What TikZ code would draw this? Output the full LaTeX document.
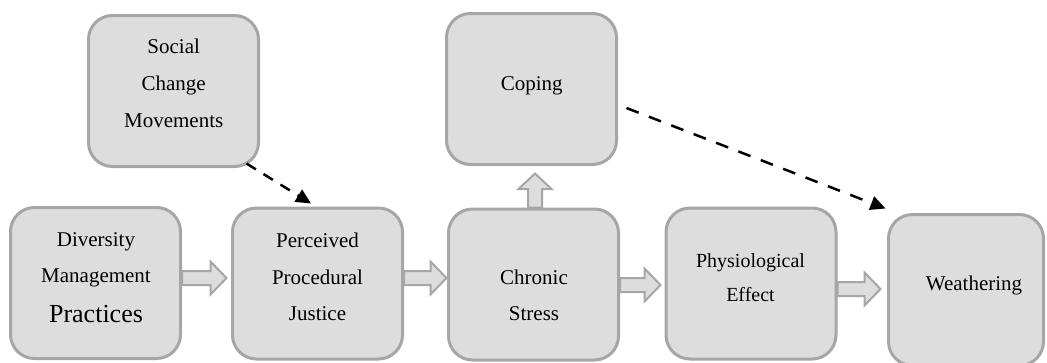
\documentclass[tikz,border=0pt]{standalone}
\usepackage{fontspec}
\setmainfont{Liberation Serif}
\usetikzlibrary{calc,arrows.meta}
\definecolor{boxfill}{HTML}{DDDDDD}
\definecolor{boxline}{HTML}{A6A6A6}
\newcommand\rblock[2]{\draw[barrow] ($(#1)+(0,-7)$) -- ($(#2)+(-16,-7)$) -- ($(#2)+(-16,-16.5)$) -- (#2) -- ($(#2)+(-16,16.5)$) -- ($(#2)+(-16,7)$) -- ($(#1)+(0,7)$) -- cycle;}
\newcommand\ublock[2]{\draw[barrow] ($(#1)+(-7,0)$) -- ($(#2)+(-7,15.5)$) -- ($(#2)+(-16.5,15.5)$) -- (#2) -- ($(#2)+(16.5,15.5)$) -- ($(#2)+(7,15.5)$) -- ($(#1)+(7,0)$) -- cycle;}
\begin{document}
\begin{tikzpicture}[x=1pt,y=-1pt,
  box/.style={draw=boxline, fill=boxfill, line width=3pt, rounded corners=24pt,
    minimum width=170pt, minimum height=151pt, inner sep=0pt},
  txt/.style={align=center, font=\fontsize{21}{37}\selectfont, inner sep=0pt},
  barrow/.style={draw=boxline, fill=boxfill, line width=2pt, line join=miter},
  dasharrow/.style={line width=2.5pt, -{Triangle[length=15pt,width=14pt]}}]
\useasboundingbox (0,0) rectangle (1047,362);
\clip (0,0) rectangle (1047,362);
% boxes
\node[box] (div) at (95.5,283) {};
\node[box] (perc) at (317.5,283.5) {};
\node[box] (chron) at (533.5,284.5) {};
\node[box] (phys) at (751,283.5) {};
\node[box, minimum width=155pt] (weath) at (966,290) {};
\node[box] (social) at (173.5,91) {};
\node[box] (coping) at (531.5,89) {};
% texts
\node[txt] (tdiv) at (96,278) {Diversity\\[-1pt]Management\\[3pt]{\fontsize{26}{37}\selectfont Practices}};
\node[txt] (tperc) at (317.5,276.5) {Perceived\\Procedural\\[-1pt]Justice};
\node[txt] (tchron) at (534,295) {Chronic\\[-1pt]Stress};
\node[txt, font=\fontsize{20}{34}\selectfont] (tphys) at (750.5,278) {Physiological\\Effect};
\node[txt] (tweath) at (974,285.2) {Weathering};
\node[txt] (tsocial) at (173.7,82.9) {Social\\Change\\Movements};
\node[txt] (tcoping) at (531.7,85.9) {Coping};
% block arrows
\coordinate (a1s) at ($(div.east)+(0,-5)$);
\coordinate (a1t) at ($(perc.west |- a1s)+(-4.5,0)$);
\coordinate (a2s) at ($(perc.east)+(0,-5.5)$);
\coordinate (a2t) at ($(chron.west |- a2s)+(-0.5,0)$);
\coordinate (a3s) at ($(chron.east)+(0,0.5)$);
\coordinate (a3t) at ($(phys.west |- a3s)+(-4,0)$);
\coordinate (a4s) at ($(phys.east)+(0,5.5)$);
\coordinate (a4t) at ($(weath.west |- a4s)+(-6.5,0)$);
\coordinate (a5s) at ($(chron.north)+(1.5,0)$);
\coordinate (a5t) at ($(a5s |- coping.south)+(0,7.5)$);
\rblock{a1s}{a1t}
\rblock{a2s}{a2t}
\rblock{a3s}{a3t}
\rblock{a4s}{a4t}
\ublock{a5s}{a5t}
% dashed arrows
\draw[dasharrow, dash pattern=on 11pt off 9pt] ([shift={(-13.5,-4.5)}]social.south east) -- ([shift={(-6.5,-3)}]perc.north);
\draw[dasharrow, dash pattern=on 13pt off 11pt] ([shift={(8.5,19)}]coping.east) -- ([shift={(-1.5,-4.5)}]weath.north west);
\end{tikzpicture}
\end{document}
